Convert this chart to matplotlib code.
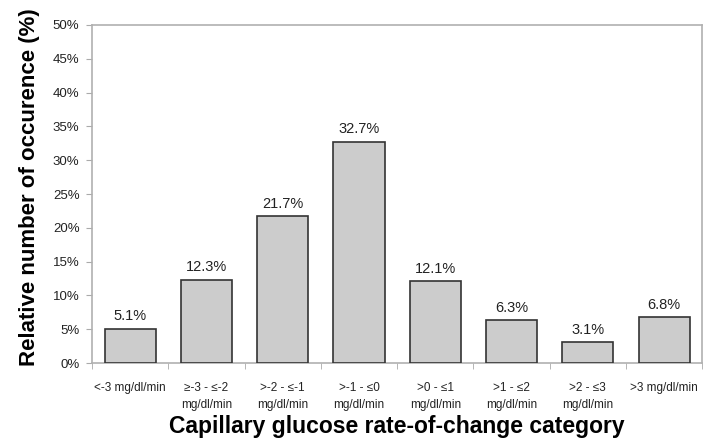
import matplotlib
matplotlib.use("Agg")
import matplotlib.pyplot as plt
import numpy as np
from matplotlib.ticker import FixedLocator

categories = ["<-3 mg/dl/min", "≥-3 - ≤-2\nmg/dl/min", ">-2 - ≤-1\nmg/dl/min",
              ">-1 - ≤0\nmg/dl/min", ">0 - ≤1\nmg/dl/min", ">1 - ≤2\nmg/dl/min",
              ">2 - ≤3\nmg/dl/min", ">3 mg/dl/min"]
values = [5.1, 12.3, 21.7, 32.7, 12.1, 6.3, 3.1, 6.8]
yticks = [0, 5, 10, 15, 20, 25, 30, 35, 40, 45, 50]

plt.rcParams['font.family'] = ['Liberation Sans', 'DejaVu Sans']

fig = plt.figure(figsize=(7.24, 4.46), dpi=100)
ax = fig.add_axes([0.127, 0.186, 0.843, 0.758])

x = np.arange(len(categories))
ax.bar(x, values, width=0.67, color="#cccccc", edgecolor="#333333", linewidth=1.2, zorder=3)
for xi, v in zip(x, values):
    ax.annotate(f"{v:.1f}%", (xi, v), xytext=(0, 4), textcoords="offset points",
                ha="center", va="bottom", fontsize=10.5, color="#222222")

ax.set_xlim(-0.5, len(categories) - 0.5)
ax.set_ylim(0, 50)
ax.set_yticks(yticks)
ax.set_yticklabels([f"{t}%" for t in yticks], fontsize=9.5, color="#222222")
ax.set_xticks(x)
ax.set_xticklabels(categories, fontsize=8.5, color="#222222", linespacing=1.5)
ax.xaxis.set_minor_locator(FixedLocator(np.arange(-0.5, len(categories), 1.0)))
ax.tick_params(axis="x", which="major", length=0, pad=14)
ax.tick_params(axis="x", which="minor", length=4, color="#aaaaaa", direction="out")
ax.tick_params(axis="y", length=4, color="#aaaaaa", direction="out", pad=5)
for s in ax.spines.values():
    s.set_color("#b0b0b0")
    s.set_linewidth(1.2)

ax.set_ylabel("Relative number of occurence (%)", fontsize=16, fontweight="bold")
ax.yaxis.set_label_coords(-0.085, 0.52)
ax.set_xlabel("Capillary glucose rate-of-change category", fontsize=16.5, fontweight="bold", labelpad=3)

fig.savefig("out.png", dpi=100)
